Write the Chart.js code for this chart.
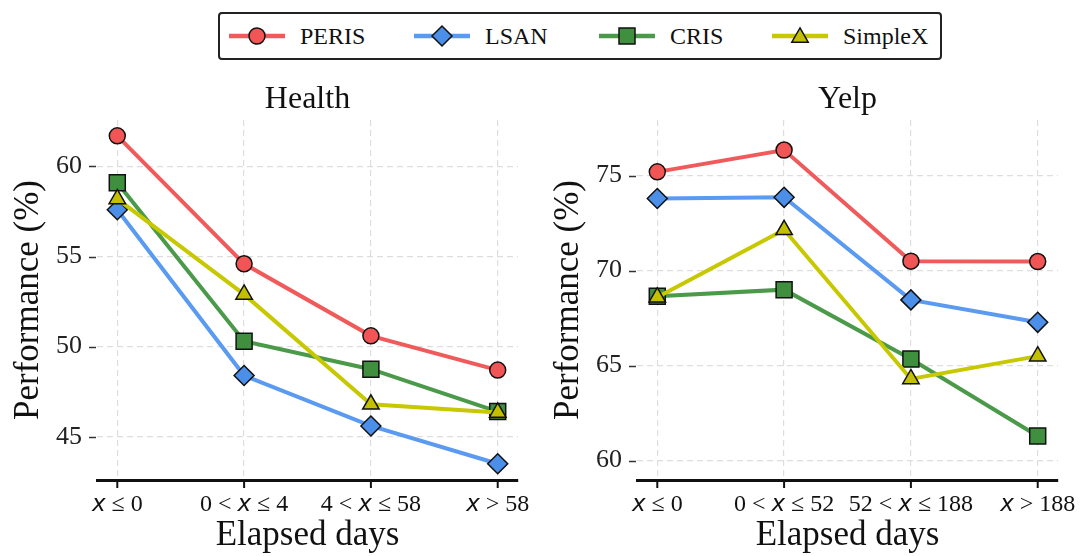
<!DOCTYPE html>
<html>
<head>
<meta charset="utf-8">
<script src="https://cdn.jsdelivr.net/npm/chart.js@4.4.1/dist/chart.umd.min.js"></script>
<style>
  html, body { margin: 0; padding: 0; background: #fff; width: 1081px; height: 556px; overflow: hidden; }
  #legend { position: absolute; left: 218px; top: 12px; width: 720px; height: 44px;
            border: 2px solid #222; border-radius: 4px; background: #fff; }
  .item { position: absolute; top: 0; height: 44px; display: flex; align-items: center; }
  .item span { font: 24px 'Liberation Serif'; color: #111; margin-left: 15px; }
  #health { position: absolute; left: 0; top: 70px; }
  #yelp { position: absolute; left: 540px; top: 70px; }
</style>
</head>
<body>
<div id="legend"></div>
<canvas id="health" width="540" height="486"></canvas>
<canvas id="yelp" width="541" height="486"></canvas>
<script>
// Elapsed-day buckets per dataset
const healthLabels = ['x ≤ 0', '0 < x ≤ 4', '4 < x ≤ 58', 'x > 58'];
const yelpLabels   = ['x ≤ 0', '0 < x ≤ 52', '52 < x ≤ 188', 'x > 188'];

// Performance (%) per method — Health
const healthPERIS   = [61.7, 54.6, 50.6, 48.7];
const healthLSAN    = [57.6, 48.4, 45.6, 43.5];
const healthCRIS    = [59.1, 50.3, 48.75, 46.4];
const healthSimpleX = [58.2, 52.9, 46.8, 46.35];

// Performance (%) per method — Yelp
const yelpPERIS   = [75.2, 76.35, 70.5, 70.48];
const yelpLSAN    = [73.8, 73.86, 68.46, 67.28];
const yelpCRIS    = [68.65, 69.0, 65.35, 61.3];
const yelpSimpleX = [68.6, 72.15, 64.3, 65.5];

// Y-axis ranges and tick values
const healthRange = [42.6, 62.58];
const yelpRange   = [58.98, 77.93];
const healthTicks = [45, 50, 55, 60];
const yelpTicks   = [60, 65, 70, 75];

const methods = ['PERIS', 'LSAN', 'CRIS', 'SimpleX'];

const styles = {
  PERIS:   { line: '#F05A5A', fill: '#F25555', point: 'circle',   r: 8 },
  LSAN:    { line: '#5A9AF0', fill: '#4C8FE8', point: 'rectRot',  r: 10 },
  CRIS:    { line: '#4A9A4A', fill: '#3F8F3F', point: 'rect',     r: 11.3 },
  SimpleX: { line: '#C8C800', fill: '#C4C000', point: 'triangle', r: 9.5 }
};

// ---- legend ----
(function buildLegend() {
  const lefts = [9, 194, 379, 552];
  const box = document.getElementById('legend');
  methods.forEach((m, i) => {
    const s = styles[m];
    const item = document.createElement('div');
    item.className = 'item';
    item.style.left = lefts[i] + 'px';
    const cx = 28, cy = 15;
    let marker = '';
    if (s.point === 'circle') {
      marker = `<circle cx="${cx}" cy="${cy}" r="8" fill="${s.fill}" stroke="#111" stroke-width="1.5"/>`;
    } else if (s.point === 'rectRot') {
      marker = `<polygon points="${cx - 10},${cy} ${cx},${cy - 10} ${cx + 10},${cy} ${cx},${cy + 10}" fill="${s.fill}" stroke="#111" stroke-width="1.5"/>`;
    } else if (s.point === 'rect') {
      marker = `<rect x="${cx - 8}" y="${cy - 8}" width="16" height="16" fill="${s.fill}" stroke="#111" stroke-width="1.5"/>`;
    } else {
      const r = 9.5, h = r * Math.sqrt(3) / 2;
      marker = `<polygon points="${cx},${cy - r * 0.75 - 1} ${cx + h},${cy + r * 0.75 - 1} ${cx - h},${cy + r * 0.75 - 1}" fill="${s.fill}" stroke="#111" stroke-width="1.5"/>`;
    }
    item.innerHTML = `<svg width="56" height="30"><line x1="0" y1="${cy}" x2="56" y2="${cy}" stroke="${s.line}" stroke-width="4.5"/>${marker}</svg><span>${m}</span>`;
    box.appendChild(item);
  });
})();

// ---- drawing helpers ----
function drawRangeLabel(ctx, text, cx, baseY) {
  const serif = "24px 'Liberation Serif'";
  const ital = "italic 23px 'DejaVu Sans'";
  const segs = [];
  text.split('x').forEach((p, i) => {
    if (i > 0) segs.push({ t: 'x', f: ital });
    if (p) segs.push({ t: p, f: serif });
  });
  let w = 0;
  segs.forEach(s => { ctx.font = s.f; s.w = ctx.measureText(s.t).width; w += s.w; });
  let x = cx - w / 2;
  ctx.textAlign = 'left';
  ctx.textBaseline = 'alphabetic';
  segs.forEach(s => { ctx.font = s.f; ctx.fillText(s.t, x, baseY); x += s.w; });
}

const axisDecor = {
  id: 'axisDecor',
  afterDraw(chart, args, opts) {
    const { ctx, chartArea: a, scales: { x, y } } = chart;
    ctx.save();
    ctx.fillStyle = '#111';
    // y tick marks
    ctx.strokeStyle = '#333';
    ctx.lineWidth = 1.5;
    y.ticks.forEach(t => {
      const py = Math.round(y.getPixelForValue(t.value)) + 0.5;
      ctx.beginPath(); ctx.moveTo(a.left - 8, py); ctx.lineTo(a.left - 1, py); ctx.stroke();
    });
    // x tick marks and labels
    ctx.strokeStyle = '#111';
    ctx.lineWidth = 2;
    opts.labels.forEach((lab, i) => {
      const px = x.getPixelForValue(i);
      ctx.beginPath(); ctx.moveTo(px, a.bottom); ctx.lineTo(px, a.bottom + 8); ctx.stroke();
      drawRangeLabel(ctx, lab, px, a.bottom + 31);
    });
    const cx = (a.left + a.right) / 2;
    ctx.textAlign = 'center';
    ctx.textBaseline = 'alphabetic';
    // x-axis title
    ctx.font = "35px 'Liberation Serif'";
    ctx.fillText('Elapsed days', cx, a.bottom + 65);
    // panel title
    ctx.font = "32px 'Liberation Serif'";
    ctx.fillText(opts.title, cx, a.top - 12);
    // y-axis title
    ctx.translate(29, (a.top + a.bottom) / 2);
    ctx.rotate(-Math.PI / 2);
    ctx.textBaseline = 'middle';
    ctx.font = "35px 'Liberation Serif'";
    ctx.fillText('Performance (%)', 0, 0);
    ctx.restore();
  }
};

function makeDatasets(seriesMap) {
  return methods.map((m, i) => {
    const s = styles[m];
    return {
      label: m,
      data: seriesMap[m].map((v, k) => ({ x: k, y: v })),
      borderColor: s.line,
      borderWidth: 4,
      backgroundColor: s.fill,
      pointStyle: s.point,
      pointRadius: s.r,
      pointBackgroundColor: s.fill,
      pointBorderColor: '#111',
      pointBorderWidth: 1.5,
      pointHoverRadius: s.r,
      tension: 0,
      clip: false,
      order: methods.length - 1 - i
    };
  });
}

function makeChart(id, title, labels, seriesMap, range, yTicks, rightPad) {
  return new Chart(document.getElementById(id), {
    type: 'line',
    data: { datasets: makeDatasets(seriesMap) },
    options: {
      responsive: false,
      animation: false,
      devicePixelRatio: 1,
      events: [],
      layout: { padding: { left: 0, right: rightPad, top: 50, bottom: 0 } },
      plugins: {
        legend: { display: false },
        tooltip: { enabled: false },
        title: { display: false },
        axisDecor: { labels: labels, title: title }
      },
      scales: {
        x: {
          type: 'linear',
          min: -0.16, max: 3.16,
          ticks: { display: false, stepSize: 1, includeBounds: false },
          afterBuildTicks: s => { s.ticks = labels.map((_, i) => ({ value: i })); },
          grid: { color: '#dedede', lineWidth: 1.2, drawTicks: false },
          border: { display: true, color: '#111', width: 3, dash: [6, 4] },
          afterFit: s => { s.height = 76; }
        },
        y: {
          min: range[0], max: range[1],
          ticks: { padding: 15, color: '#222',
                   font: { family: 'Liberation Serif', size: 26 } },
          afterBuildTicks: s => { s.ticks = yTicks.map(v => ({ value: v })); },
          grid: { color: '#dedede', lineWidth: 1.2, drawTicks: false },
          border: { display: false, dash: [6, 4] },
          afterFit: s => { s.width = 97; }
        }
      }
    },
    plugins: [axisDecor]
  });
}

makeChart('health', 'Health', healthLabels,
  { PERIS: healthPERIS, LSAN: healthLSAN, CRIS: healthCRIS, SimpleX: healthSimpleX },
  healthRange, healthTicks, 22);
makeChart('yelp', 'Yelp', yelpLabels,
  { PERIS: yelpPERIS, LSAN: yelpLSAN, CRIS: yelpCRIS, SimpleX: yelpSimpleX },
  yelpRange, yelpTicks, 23);
</script>
</body>
</html>
